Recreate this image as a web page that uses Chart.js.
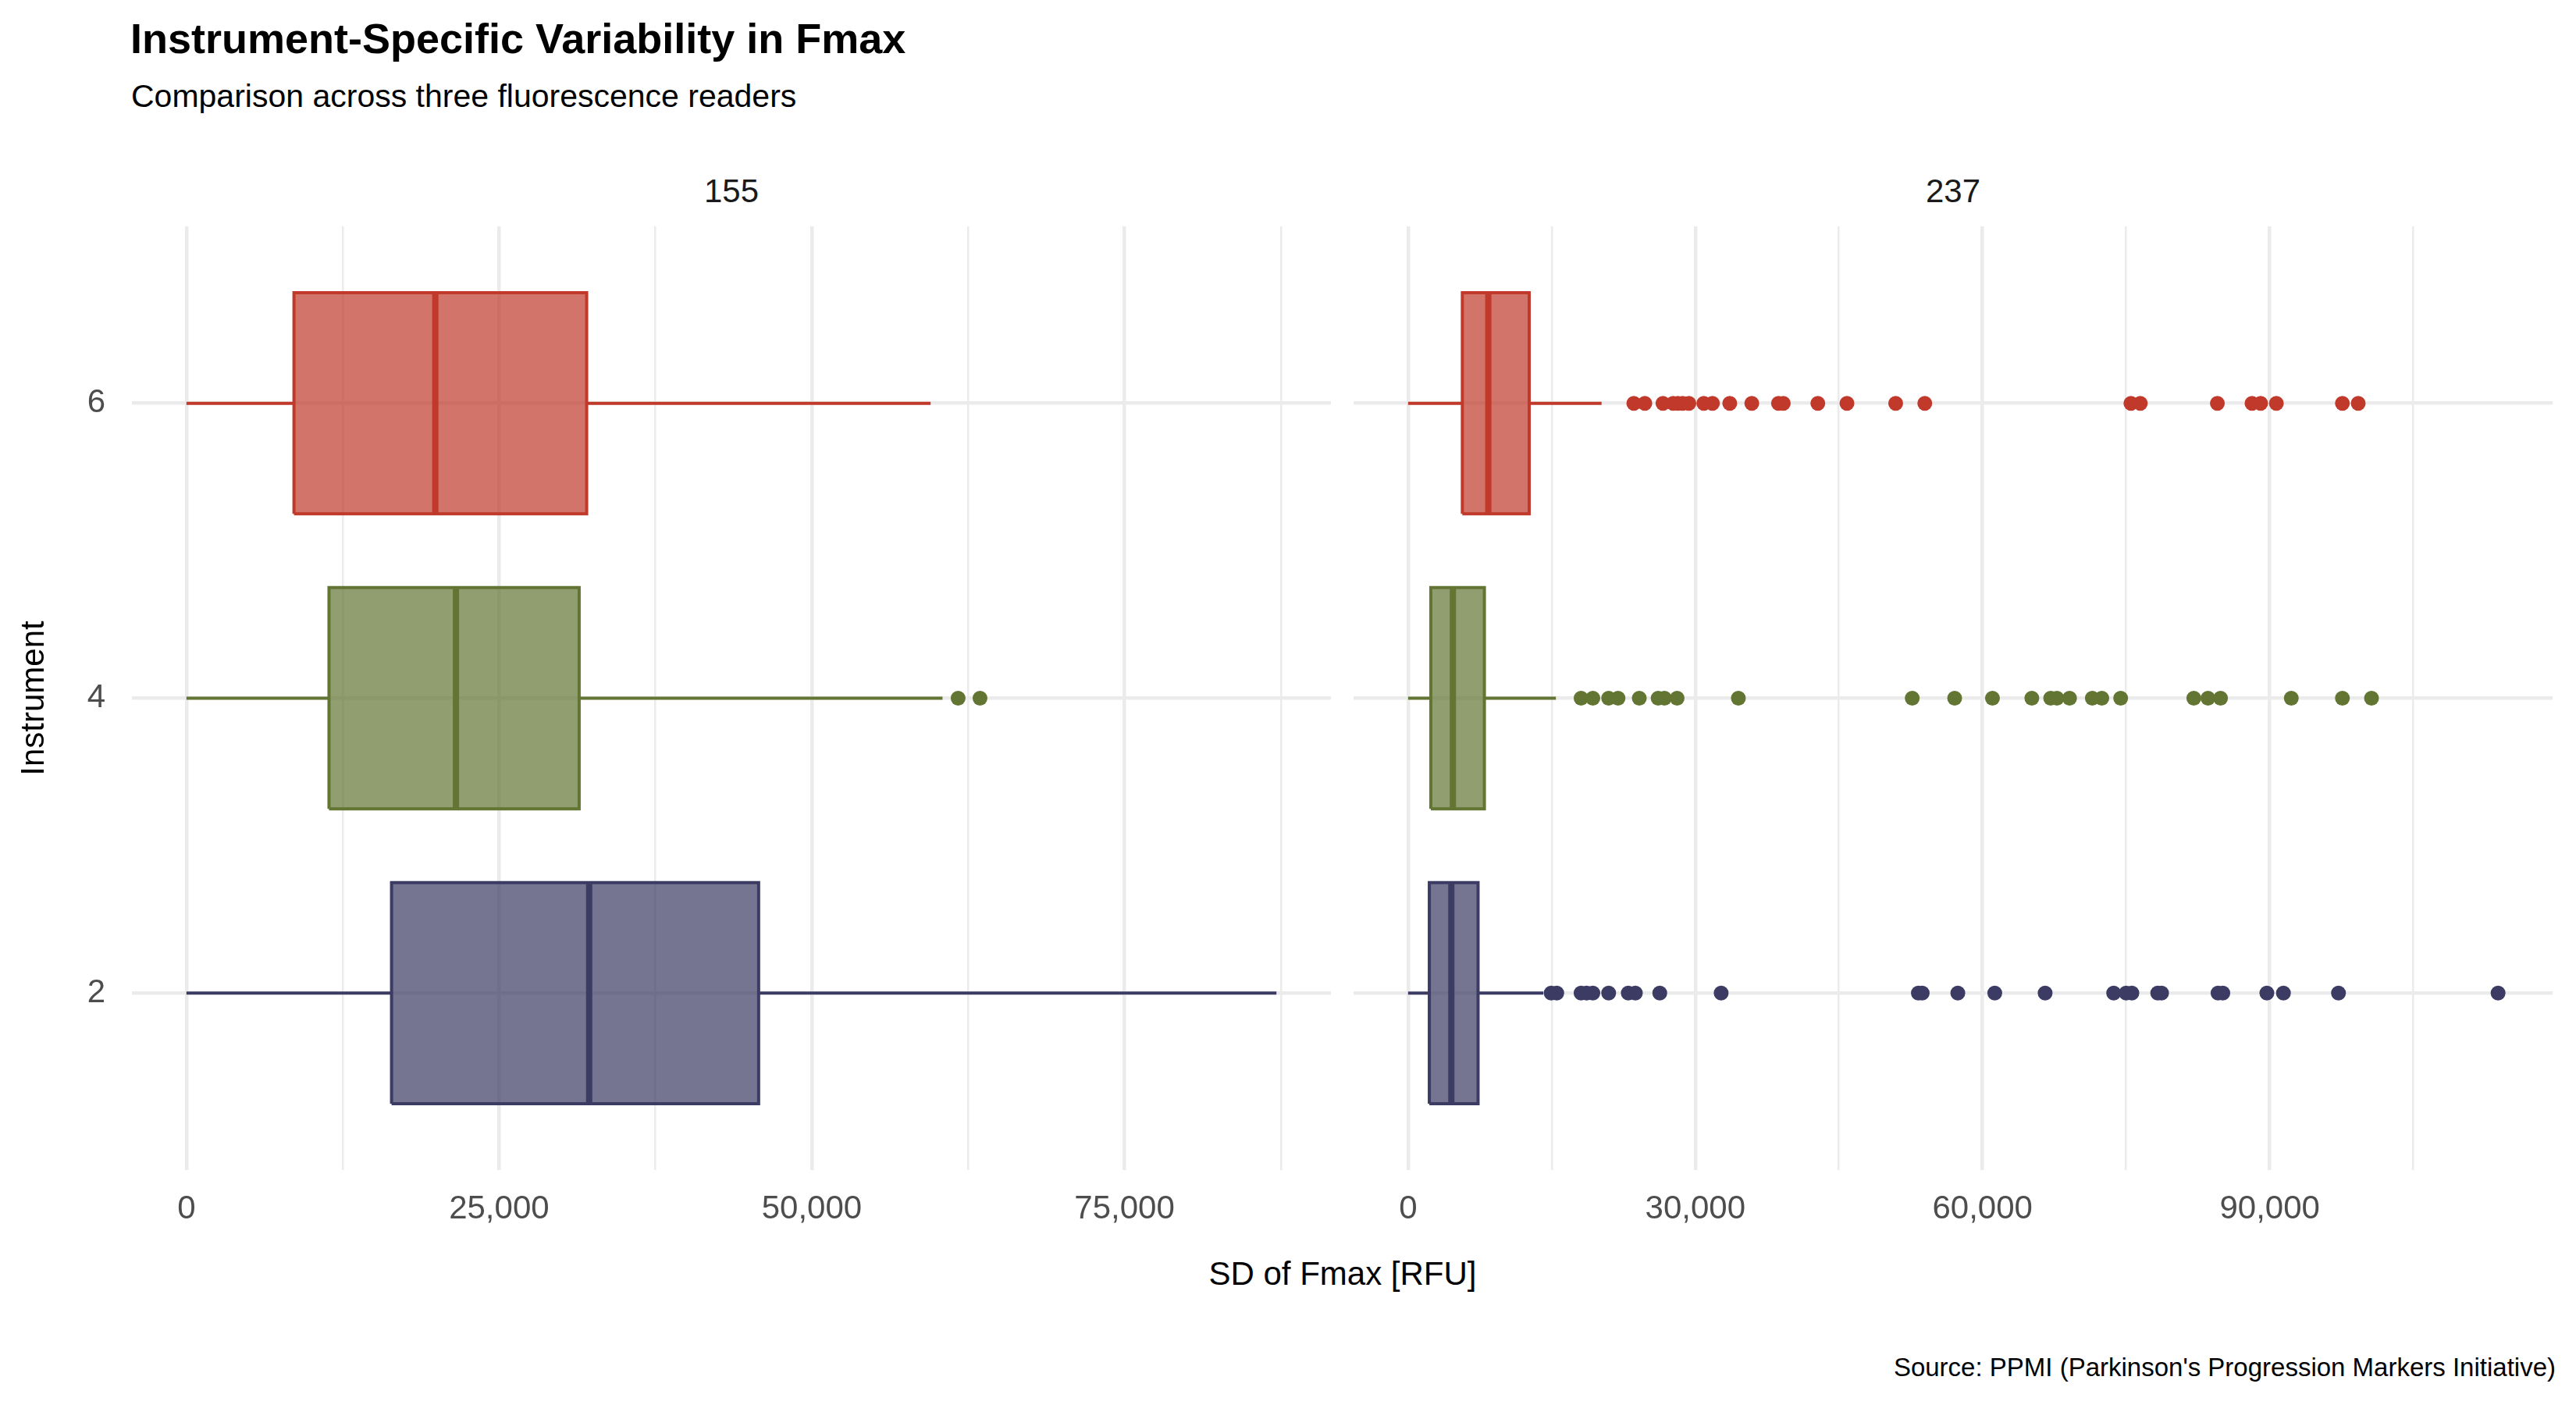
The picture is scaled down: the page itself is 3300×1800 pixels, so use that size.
<!DOCTYPE html>
<html>
<head>
<meta charset="utf-8">
<script src="https://cdn.jsdelivr.net/npm/chart.js@4.4.0/dist/chart.umd.min.js"></script>
<style>
  html, body { margin: 0; padding: 0; background: #fff; }
  body { width: 3300px; height: 1800px; position: relative; overflow: hidden;
         font-family: "Liberation Sans", Arial, sans-serif; }
  .txt { position: absolute; line-height: 1; white-space: nowrap; }
  canvas { position: absolute; }
</style>
</head>
<body>
<div class="txt" style="left:167px; top:22px; font-size:54px; font-weight:bold; color:#000;">Instrument-Specific Variability in Fmax</div>
<div class="txt" style="left:168px; top:103px; font-size:41px; color:#000;">Comparison across three fluorescence readers</div>
<div class="txt" style="left:737px; width:400px; text-align:center; top:224px; font-size:42px; color:#1A1A1A;">155</div>
<div class="txt" style="left:2302px; width:400px; text-align:center; top:224px; font-size:42px; color:#1A1A1A;">237</div>
<div class="txt" style="left:1420px; width:600px; text-align:center; top:1611px; font-size:42px; color:#000;">SD of Fmax [RFU]</div>
<div class="txt" style="right:26px; top:1735px; font-size:33px; color:#000;">Source: PPMI (Parkinson's Progression Markers Initiative)</div>

<canvas id="panel155" width="1705" height="1300" style="left:0; top:290px; width:1705px; height:1300px;"></canvas>
<canvas id="panel237" width="1536" height="1300" style="left:1734px; top:290px; width:1536px; height:1300px;"></canvas>

<script>
// instruments (y positions) and colours, same order everywhere
const instruments = [2, 4, 6];
const strokeColors = ['#3B3B64', '#627533', '#C0392B'];
const fillColors = ['rgba(59,59,100,0.7)', 'rgba(98,117,51,0.7)', 'rgba(192,57,43,0.7)'];

// reader 155
const q1_155 = [16400, 11400, 8600];
const median_155 = [32200, 21550, 19900];
const q3_155 = [45750, 31400, 32000];
const low_155 = [0, 0, 0];
const high_155 = [87150, 60450, 59500];
const outliers_155 = [
  [],
  [61700, 63450],
  []
];

// reader 237
const q1_237 = [2220, 2380, 5670];
const median_237 = [4520, 4680, 8380];
const q3_237 = [7310, 7970, 12650];
const low_237 = [0, 0, 0];
const high_237 = [14130, 15440, 20210];
const outliers_237 = [
  [14950, 15530, 18070, 18650, 19300, 20950, 23000, 23740, 26290, 32700, 53300, 53700,
   57420, 61280, 66540, 73700, 75000, 75600, 78300, 78700, 84600, 85100, 89700, 91430, 97180, 113850],
  [18070, 19300, 20950, 21930, 24150, 26120, 26780, 28100, 34500, 52660, 57090, 61040,
   65150, 67120, 67770, 69090, 71470, 72460, 74430, 82070, 83550, 84860, 92250, 97590, 100630],
  [23580, 24730, 26620, 27690, 28180, 28670, 29330, 30890, 31790, 33600, 35900, 38690,
   39190, 42800, 45840, 50930, 53970, 75500, 76480, 84530, 88150, 89050, 90690, 97590, 99240]
];

// tick values
const yTicks = [2, 4, 6];
const xTicks_155 = [0, 12500, 25000, 37500, 50000, 62500, 75000, 87500];
const xTicks_237 = [0, 15000, 30000, 45000, 60000, 75000, 90000, 105000];

const FONT = '"Liberation Sans", Arial, sans-serif';
const boxHalf = 0.75;
const yMin = 0.8, yMax = 7.2;

function buildDatasets(q1, med, q3, lo, hi, outs) {
  const ds = [];
  instruments.forEach((g, i) => {
    const stroke = strokeColors[i];
    const yl = g - boxHalf, yh = g + boxHalf;
    // median
    ds.push({ data: [{x: med[i], y: yl}, {x: med[i], y: yh}],
      borderColor: stroke, borderWidth: 8, borderCapStyle: 'butt', pointRadius: 0, fill: false, order: 0 });
    // box
    ds.push({ data: [{x: q1[i], y: yl}, {x: q3[i], y: yl}, {x: q3[i], y: yh}, {x: q1[i], y: yh}, {x: q1[i], y: yl}],
      borderColor: stroke, backgroundColor: fillColors[i], borderWidth: 4, borderJoinStyle: 'miter',
      pointRadius: 0, fill: 'shape', order: 1 });
    // whiskers
    ds.push({ data: [{x: lo[i], y: g}, {x: q1[i], y: g}],
      borderColor: stroke, borderWidth: 4, pointRadius: 0, fill: false, order: 2 });
    ds.push({ data: [{x: q3[i], y: g}, {x: hi[i], y: g}],
      borderColor: stroke, borderWidth: 4, pointRadius: 0, fill: false, order: 2 });
    // outliers
    ds.push({ data: outs[i].map(v => ({x: v, y: g})), showLine: false,
      pointRadius: 9.5, pointBackgroundColor: stroke, pointBorderWidth: 0, fill: false, order: 0 });
  });
  return ds;
}

function makePanel(id, q1, med, q3, lo, hi, outs, xTicks, major, showY) {
  const dataMax = Math.max(...hi, ...outs.flat());
  const pad = dataMax * 0.05;
  return new Chart(document.getElementById(id), {
    type: 'line',
    data: { datasets: buildDatasets(q1, med, q3, lo, hi, outs) },
    options: {
      responsive: false,
      animation: false,
      events: [],
      devicePixelRatio: 1,
      layout: { padding: 0, autoPadding: false },
      plugins: { legend: { display: false }, tooltip: { enabled: false } },
      scales: {
        x: {
          type: 'linear',
          min: -pad,
          max: dataMax + pad,
          afterBuildTicks: ax => { ax.ticks = xTicks.map(v => ({value: v})); },
          afterFit: ax => { ax.height = 91; ax.paddingLeft = 0; ax.paddingRight = 0; },
          border: { display: false },
          grid: {
            color: '#EBEBEB',
            drawTicks: false,
            lineWidth: c => (c.tick && c.tick.value % major === 0) ? 4.5 : 2.5
          },
          ticks: {
            autoSkip: false, maxRotation: 0, minRotation: 0, padding: 25,
            color: '#4D4D4D', font: { family: FONT, size: 42 },
            callback: v => v % major === 0 ? v.toLocaleString('en-US') : ''
          }
        },
        y: {
          type: 'linear',
          min: yMin,
          max: yMax,
          afterBuildTicks: ax => { ax.ticks = yTicks.map(v => ({value: v})); },
          afterFit: ax => { ax.width = showY ? 169 : 0; ax.paddingTop = 0; ax.paddingBottom = 0; },
          border: { display: false },
          grid: { color: '#EBEBEB', lineWidth: 4.5, drawTicks: false },
          ticks: {
            display: showY, padding: 34, color: '#4D4D4D',
            font: { family: FONT, size: 42 }
          },
          title: {
            display: showY, text: 'Instrument', color: '#000',
            font: { family: FONT, size: 42 }, padding: { top: 19, bottom: 0 }
          }
        }
      }
    }
  });
}

makePanel('panel155', q1_155, median_155, q3_155, low_155, high_155, outliers_155, xTicks_155, 25000, true);
makePanel('panel237', q1_237, median_237, q3_237, low_237, high_237, outliers_237, xTicks_237, 30000, false);
</script>
</body>
</html>
